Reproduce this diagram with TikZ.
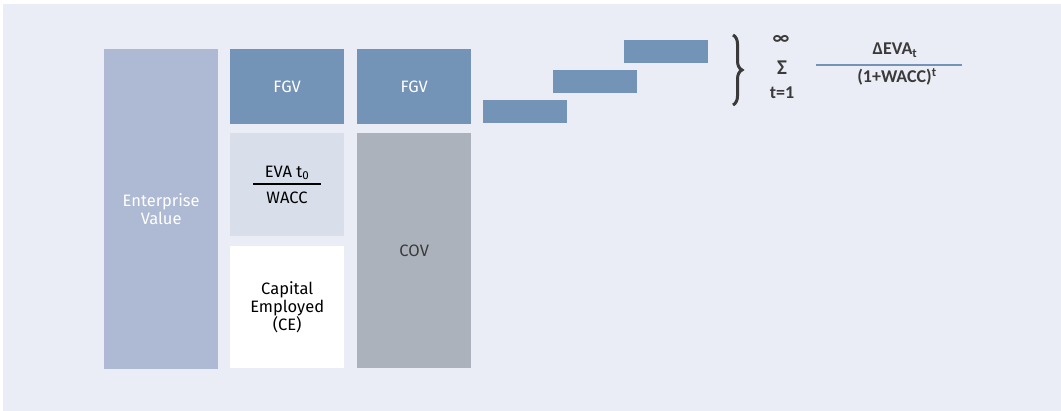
\documentclass[tikz,border=0pt]{standalone}
\usepackage{fontspec}
\setmainfont{Fira Sans}
\newfontfamily\formulafont{Carlito}
\usetikzlibrary{decorations.pathreplacing}

\definecolor{bgcol}{HTML}{EAEDF5}
\definecolor{evcol}{HTML}{AEBAD3}
\definecolor{fgvcol}{HTML}{7393B7}
\definecolor{evacol}{HTML}{D8DEEA}
\definecolor{covcol}{HTML}{ABB2BC}
\definecolor{txtcol}{HTML}{3A3A3A}

\tikzset{
  block/.style={anchor=north west, inner sep=0pt, minimum width=114pt,
    align=center, font=\fontsize{16.5}{18}\selectfont},
  bar/.style={anchor=north west, inner sep=0pt, minimum width=84pt,
    minimum height=23pt, fill=fgvcol},
  formula/.style={inner sep=0pt, text=txtcol,
    font=\formulafont\bfseries\fontsize{18}{20}\selectfont}
}

\begin{document}
\begin{tikzpicture}[x=1pt,y=-1pt]
\useasboundingbox (0,0) rectangle (1061,411);
\fill[bgcol] (3,4) rectangle (1061,411);

% left column
\node[block, fill=evcol, minimum height=320pt, text=white] (ev) at (104,49) {Enterprise\\Value};

% middle column
\node[block, fill=fgvcol, minimum height=75pt, text=white] (fgva) at (230,49) {FGV};
\node[block, fill=evacol, minimum height=103pt] (eva) at (230,133) {};
\node[block, fill=white, minimum height=122pt, text=black] (ce) at (230,246) {Capital\\Employed\\(CE)};
\node[inner sep=0pt, font=\fontsize{16.5}{18}\selectfont] (evat) at (287,173) {EVA t\textsubscript{0}};
\node[inner sep=0pt, font=\fontsize{16.5}{18}\selectfont] (wacc) at (287,198) {WACC};
\draw[line width=1.2pt] (253,184) -- (321,184);

% right column
\node[block, fill=fgvcol, minimum height=75pt, text=white] (fgvb) at (357,49) {FGV};
\node[block, fill=covcol, minimum height=235pt, text=txtcol] (cov) at (357,133) {COV};

% steps
\node[bar] (bar1) at (483,100) {};
\node[bar] (bar2) at (553,70) {};
\node[bar] (bar3) at (624,40) {};

% sum
\draw[txtcol, line width=3pt, decorate, decoration={brace, amplitude=9pt}]
  (733,35) -- (733,105);
\node[formula, font=\formulafont\bfseries\fontsize{20}{20}\selectfont] (inf) at (781,40) {∞};
\node[formula, font=\formulafont\bfseries\fontsize{21}{20}\selectfont] (sum) at (782,68) {Σ};
\node[formula] (tone) at (782,93) {t=1};

\node[formula] (num) at (895,50) {ΔEVA\textsubscript{t}};
\draw[fgvcol, line width=1.6pt] (816,65) -- (962,65);
\node[formula] (den) at (897,77) {(1+WACC)\textsuperscript{t}};
\end{tikzpicture}
\end{document}
